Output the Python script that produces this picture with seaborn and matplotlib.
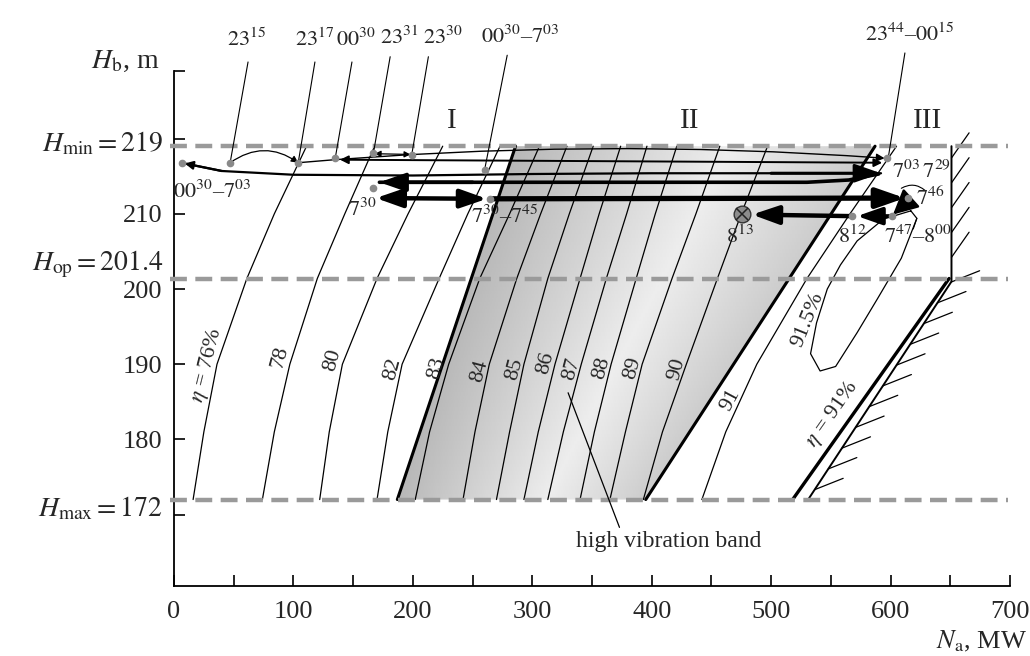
import numpy as np
import pandas as pd
import matplotlib
matplotlib.use('Agg')
import matplotlib.pyplot as plt
import matplotlib.patheffects as pe
from matplotlib.patches import Polygon
import seaborn as sns


## Operating levels of the head, m
H_MIN = 219
H_OP = 201.4
H_MAX = 172

## Efficiency isolines, power N (MW) read at these heads
H_LEVELS = [172, 181, 190, 201.4, 210, 219]
eta_76 = [16, 25, 36, 61, 84, 111]
eta_78 = [74, 84, 97, 120, 143, 168]
eta_80 = [122, 130, 141, 170, 196, 225]
eta_82 = [170, 179, 191, 222, 246, 273]
eta_83 = [202, 214, 230, 256, 281, 306]
eta_84 = [242, 252, 264, 287, 307, 329]
eta_85 = [270, 281, 293, 313, 331, 351]
eta_86 = [293, 305, 319, 340, 356, 374]
eta_87 = [313, 326, 341, 362, 379, 396]
eta_88 = [340, 352, 366, 387, 403, 421]
eta_89 = [365, 378, 392, 417, 437, 457]
eta_90 = [393, 409, 429, 455, 475, 497]
eta_91 = [442, 462, 488, 530, 566, 605]

## High vibration band edges
band_H = [172, 219]
band_left_N = [187, 286]
band_right_N = [395, 587]

## eta = 91% limit line and the hatched power limit
eta91_lim_N = [518, 649]
eta91_lim_H = [172, 201.4]
limit_N = [531, 651, 651]
limit_H = [172, 201, 219]

## closed 91.5% isoline
loop_N = [617, 594, 572, 558, 547, 538, 533, 541, 554, 572, 589, 609, 622, 617]
loop_H = [210.4, 209.3, 206.4, 203.2, 200.0, 195.5, 191.4, 189.1, 189.7, 194.2, 198.7, 204.1, 209.4, 210.4]

## Recorded operating points (N, H)
dots_N = [7, 47, 104, 135, 167, 199, 260, 167, 265, 597, 615, 601, 568]
dots_H = [216.8, 216.8, 216.8, 217.4, 218.1, 217.8, 215.8, 213.5, 212.0, 217.4, 212.1, 209.7, 209.7]
pt_813 = (476, 210.0)

# lower thin path between 00:30-7:03 points
path1_N = [9, 40, 100, 200, 300, 400, 500, 592]
path1_H = [216.7, 215.7, 215.2, 215.1, 215.3, 215.4, 215.4, 215.4]
# 7:29 -> 7:30 return path
path2_N = [590, 565, 530, 450, 350, 250, 172]
path2_H = [215.3, 214.5, 214.2, 214.2, 214.2, 214.2, 214.2]

curves = {'76': eta_76, '78': eta_78, '80': eta_80, '82': eta_82, '83': eta_83,
          '84': eta_84, '85': eta_85, '86': eta_86, '87': eta_87, '88': eta_88,
          '89': eta_89, '90': eta_90, '91': eta_91}


sns.set_style('white')
plt.rcParams['font.family'] = ['Liberation Serif', 'DejaVu Serif']
plt.rcParams['mathtext.fontset'] = 'stix'

fig = plt.figure(figsize=(10.3, 6.56), dpi=100)
ax = fig.add_axes([174 / 1030, 1 - 586 / 656, 836 / 1030, 515 / 656])


## shaded band with a soft gradient
gx = np.linspace(180, 600, 420)
gy = np.linspace(171, 220, 98)
GX, GY = np.meshgrid(gx, gy)
left = np.interp(GY, band_H, band_left_N)
right = np.interp(GY, band_H, band_right_N)
t = np.clip((GX - left) / (right - left), 0, 1)
shade = np.interp(t, [0, 0.6, 1], [0.72, 0.93, 0.80])
im = ax.imshow(shade, cmap='gray', vmin=0, vmax=1, extent=(180, 600, 171, 220),
               origin='lower', aspect='auto', zorder=0.5, interpolation='bilinear')
poly = Polygon([(band_left_N[0], band_H[0]), (band_right_N[0], band_H[0]),
                (band_right_N[1], band_H[1]), (band_left_N[1], band_H[1])],
               closed=True, fc='none', ec='none')
ax.add_patch(poly)
im.set_clip_path(poly)

ax.plot(band_left_N, band_H, color='k', lw=2.2, zorder=2.5)
ax.plot(band_right_N, band_H, color='k', lw=2.2, zorder=2.5)


## efficiency isolines
rows = []
for name, vals in curves.items():
    for h, n in zip(H_LEVELS, vals):
        rows.append(dict(curve=name, N=n, H=h))
df = pd.DataFrame(rows)
sns.lineplot(data=df, x='N', y='H', units='curve', estimator=None, sort=False,
             color='black', lw=0.9, ax=ax, legend=False, zorder=2)

ax.plot(eta91_lim_N, eta91_lim_H, color='k', lw=2.4, zorder=2.5)
ax.plot(limit_N, limit_H, color='k', lw=1.4, zorder=2.5,
        path_effects=[pe.withTickedStroke(spacing=17, angle=-35, length=1.3, linewidth=0.9)])
ax.plot(loop_N, loop_H, color='k', lw=0.9, zorder=2)


## curve labels
lab_kw = dict(fontsize=16, ha='center', va='center', zorder=5)
ax.text(28, 189.8, r'$\eta$ = 76%', rotation=76, **lab_kw)
label_pos = {'78': (89, 190.9), '80': (133, 190.5), '82': (183, 189.4), '83': (220, 189.5),
             '84': (256, 189.1), '85': (285, 189.4), '86': (311, 190.1), '87': (333, 189.4),
             '88': (358, 189.5), '89': (384, 189.5), '90': (421, 189.4)}
for name, (x, y) in label_pos.items():
    ax.text(x, y, name, rotation=75, **lab_kw)
ax.text(466, 185.2, '91', rotation=62, **lab_kw)
ax.text(531, 195.9, '91.5%', rotation=68, **lab_kw)
ax.text(551, 183.3, r'$\eta$ = 91%', rotation=55, **lab_kw)


## level lines
ax.hlines([H_MIN, H_OP, H_MAX], -3, 698, colors='#9a9a9a', lw=3.2,
          linestyles=(0, (3.8, 1.9)), clip_on=False, zorder=3)


## operating point trajectories
def arrow(p0, p1, lw=1.0, ms=12, style='-|>', rad=0.0, z=4):
    ax.annotate('', xy=p1, xytext=p0, zorder=z, annotation_clip=False,
                arrowprops=dict(arrowstyle=style, lw=lw, color='k', mutation_scale=ms,
                                shrinkA=0, shrinkB=0,
                                connectionstyle=f'arc3,rad={rad}'))

arrow((47, 216.8), (104, 216.8), lw=0.9, ms=10, rad=-0.35)
arrow((104, 216.8), (595, 217.4), lw=1.0, ms=12, rad=-0.04)
arrow((168, 218.0), (198, 217.9), lw=0.9, ms=9, style='<|-|>')
arrow((139, 217.2), (593, 216.8), lw=1.4, ms=12, style='<|-|>')

ax.plot(path1_N, path1_H, color='k', lw=1.6, zorder=4)
arrow((path1_N[1], path1_H[1]), (path1_N[0], path1_H[0]), lw=1.6, ms=12)
arrow((path1_N[-2], path1_H[-2]), (path1_N[-1], path1_H[-1]), lw=2.2,
      ms=16, style='-|>,head_length=1.0,head_width=0.35')

ax.plot(path2_N, path2_H, color='k', lw=2.6, zorder=4)
arrow((path2_N[-2], path2_H[-2]), (path2_N[-1], path2_H[-1]), lw=2.6,
      ms=16, style='-|>,head_length=1.0,head_width=0.35')

arrow((169, 212.1), (262, 212.0), lw=3.2, ms=16, style='<|-|>,head_length=1.0,head_width=0.35')
arrow((266, 212.0), (612, 212.1), lw=3.8, ms=17, style='-|>,head_length=1.0,head_width=0.35')
arrow((616, 211.9), (602, 209.9), lw=1.8, ms=17, style='-|>,head_length=0.9,head_width=0.45')
arrow((600, 209.7), (572, 209.7), lw=2.8, ms=15, style='-|>,head_length=1.0,head_width=0.35')
arrow((566, 209.7), (484, 209.9), lw=3.2, ms=16, style='-|>,head_length=1.0,head_width=0.35')

ax.plot(dots_N, dots_H, 'o', ms=4.5, color='#8a8a8a', zorder=5)
ax.plot(*pt_813, 'o', ms=12, mfc='#8c8c8c', mec='#333333', mew=1.0, zorder=6)
ax.plot(*pt_813, 'x', ms=8, mec='#222222', mew=1.1, zorder=7)


## time stamps with leader lines
tkw = dict(fontsize=16, ha='center', va='center', clip_on=False)
stamps = [(r'$23^{15}$', (61, 233.1), (62, 230.2), (47, 216.8)),
          (r'$23^{17}$', (118, 233.1), (118, 230.2), (104, 216.8)),
          (r'$00^{30}$', (152, 233.1), (149, 230.2), (135, 217.4)),
          (r'$23^{31}$', (189, 233.4), (181, 230.9), (167, 218.1)),
          (r'$23^{30}$', (225, 233.4), (213, 230.9), (199, 217.8)),
          (r'$00^{30}$–$7^{03}$', (290, 233.6), (279, 231.1), (260, 215.8)),
          (r'$23^{44}$–$00^{15}$', (616, 233.8), (612, 231.4), (598, 217.4))]
for txt, tp, a, b in stamps:
    ax.text(*tp, txt, **tkw)
    ax.plot([a[0], b[0]], [a[1], b[1]], color='k', lw=0.8, clip_on=False, zorder=4)

ax.text(32, 212.9, r'$00^{30}$–$7^{03}$', **tkw)
ax.text(158, 210.5, r'$7^{30}$', **tkw)
ax.text(277, 209.6, r'$7^{30}$–$7^{45}$', **tkw)
ax.text(601, 215.6, r'$7^{03}\,7^{29}$', fontsize=16, ha='left', va='center', zorder=6)
ax.text(621, 212.1, r'$7^{46}$', fontsize=16, ha='left', va='center', zorder=6)
ax.text(623, 207.0, r'$7^{47}$–$8^{00}$', fontsize=16, ha='center', va='center', zorder=6)
ax.text(568, 207.0, r'$8^{12}$', fontsize=16, ha='center', va='center', zorder=6)
ax.text(474, 207.0, r'$8^{13}$', fontsize=16, ha='center', va='center', zorder=6)
ax.annotate('', xy=(609, 213.4), xytext=(629, 213.1),
            arrowprops=dict(arrowstyle='-', lw=0.8, color='k', shrinkA=0, shrinkB=0,
                            connectionstyle='arc3,rad=0.35'))
ax.plot([622, 619], [209.4, 208.0], color='k', lw=0.8, zorder=4)

## zone labels
for txt, x in [('I', 233), ('II', 432), ('III', 631)]:
    ax.text(x, 222.3, txt, fontsize=21, ha='center', va='center')

ax.text(414, 166.4, 'high vibration band', fontsize=17, ha='center', va='center', clip_on=False)
ax.plot([330, 373], [186.2, 168.3], color='k', lw=0.9, zorder=4)


## axes
ax.set_xlim(0, 700)
ax.set_ylim(160.5, 229)
ax.set_xticks(range(0, 701, 100))
ax.set_xticks(range(50, 700, 100), minor=True)
ax.set_yticks([170, 180, 190, 200, 210, 220, 229])
ax.set_yticklabels(['', '180', '190', '200', '210', '', ''])
ax.tick_params(which='both', direction='in', length=8, width=1.2, labelsize=19,
               color='k', bottom=True, left=True, top=False, right=False)
ax.tick_params(axis='y', pad=8.5)
ax.tick_params(axis='x', pad=11)
ax.set_xlabel('')
ax.set_ylabel('')
sns.despine(ax=ax)
for s in ['left', 'bottom']:
    ax.spines[s].set_linewidth(1.3)
    ax.spines[s].set_color('k')

ax.text(-12, 230.3, r'$H_{\rm b}$, m', fontsize=20, ha='right', va='center', clip_on=False)
ax.text(-9, 219.3, r'$H_{\rm min} = 219$', fontsize=20, ha='right', va='center', clip_on=False)
ax.text(-9, 203.3, r'$H_{\rm op} = 201.4$', fontsize=20, ha='right', va='center', clip_on=False)
ax.text(-9, 170.8, r'$H_{\rm max} = 172$', fontsize=20, ha='right', va='center', clip_on=False)
fig.text(1027 / 1030, 1 - 641 / 656, r'$N_{\rm a}$, MW', fontsize=19, ha='right', va='center')

fig.savefig('out.png', dpi=100)
